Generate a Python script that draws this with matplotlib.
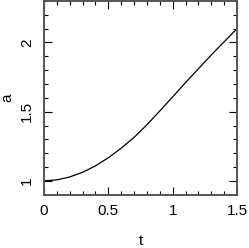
import numpy as np
import matplotlib
matplotlib.use("Agg")
import matplotlib.pyplot as plt
from matplotlib.ticker import MultipleLocator

# values
t_vals = [0.0, 0.1, 0.2, 0.3, 0.4, 0.5, 0.6, 0.7, 0.8, 0.9,
          1.0, 1.1, 1.2, 1.3, 1.4, 1.5]
a_vals = [1.000, 1.007, 1.028, 1.062, 1.108, 1.167, 1.236, 1.314, 1.405, 1.505,
          1.607, 1.710, 1.810, 1.910, 2.005, 2.100]

x_ticks = [0, 0.5, 1, 1.5]
x_labels = ["0", "0.5", "1", "1.5"]
y_ticks = [1, 1.5, 2]
y_labels = ["1", "1.5", "2"]

plt.rcParams["font.family"] = ["Liberation Sans", "DejaVu Sans"]
plt.rcParams["font.size"] = 11

fig = plt.figure(figsize=(2.49, 2.48), dpi=100)
ax = fig.add_axes([0.1767, 0.215, 0.775, 0.781])

ax.plot(t_vals, a_vals, color="black", lw=0.9)

ax.set_xlim(0, 1.5)
ax.set_ylim(0.9, 2.3)
ax.set_xticks(x_ticks)
ax.set_xticklabels(x_labels)
ax.set_yticks(y_ticks)
ax.set_yticklabels(y_labels, rotation=90, va="center")
ax.xaxis.set_minor_locator(MultipleLocator(0.1))
ax.yaxis.set_minor_locator(MultipleLocator(0.1))

ax.tick_params(which="both", direction="in", top=True, right=True,
               color="black", width=0.8)
ax.tick_params(which="major", length=5.8, pad=7)
ax.tick_params(which="minor", length=2.9)

for s in ax.spines.values():
    s.set_color("#555555")
    s.set_linewidth(1.4)

ax.set_xlabel("t", labelpad=11)
ax.set_ylabel("a", labelpad=4)

fig.savefig("out.png", dpi=100)
